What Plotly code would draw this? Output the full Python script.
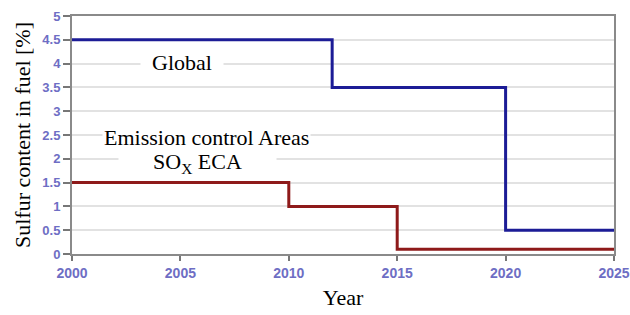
import plotly.graph_objects as go

global_years = [2000, 2012, 2012, 2020, 2020, 2025]
global_values = [4.5, 4.5, 3.5, 3.5, 0.5, 0.5]
eca_years = [2000, 2010, 2010, 2015, 2015, 2025]
eca_values = [1.5, 1.5, 1.0, 1.0, 0.1, 0.1]
x_ticks = [2000, 2005, 2010, 2015, 2020, 2025]
y_ticks = [0, 0.5, 1, 1.5, 2, 2.5, 3, 3.5, 4, 4.5, 5]
y_ticktext = ["0", "0.5", "1", "1.5", "2", "2.5", "3", "3.5", "4", "4.5", "5"]

fig = go.Figure()
fig.add_trace(go.Scatter(x=global_years, y=global_values, mode="lines",
                         line=dict(color="#1c1c96", width=3), showlegend=False))
fig.add_trace(go.Scatter(x=eca_years, y=eca_values, mode="lines",
                         line=dict(color="#8e1a1a", width=3), showlegend=False))

serif = "Liberation Serif, Times New Roman, serif"
sans = "Liberation Sans, Arial, sans-serif"

fig.update_layout(
    width=630, height=315,
    margin=dict(l=72, r=16, t=16, b=61),
    paper_bgcolor="white", plot_bgcolor="white",
    font=dict(family=serif, color="black"),
    xaxis=dict(range=[2000, 2025], tickvals=x_ticks, ticks="outside", ticklen=5,
               tickcolor="#777", tickwidth=1.5, showgrid=False, zeroline=False,
               showline=True, linecolor="#8a8a8a", linewidth=2, mirror=True,
               automargin=False,
               tickfont=dict(family=sans, size=14, color="#6e6ec4", weight="bold"),
               title=dict(text="Year", font=dict(family=serif, size=22), standoff=10)),
    yaxis=dict(range=[0, 5], tickvals=y_ticks, ticktext=y_ticktext, ticks="outside", ticklen=7,
               tickcolor="#777", tickwidth=1.5, showgrid=True, gridcolor="#e2e2e2", gridwidth=2,
               zeroline=False, showline=True, linecolor="#8a8a8a", linewidth=2, mirror=True,
               automargin=False,
               tickfont=dict(family=sans, size=13, color="#6e6ec4", weight="bold"),
               title=dict(text="Sulfur content in fuel [%]", font=dict(family=serif, size=22), standoff=6)),
)

fig.add_annotation(x=2005.07, y=4.03, text="Global", showarrow=False, width=80,
                   font=dict(family=serif, size=22, color="black"), bgcolor="white", borderpad=1)
fig.add_annotation(x=2006.2, y=2.44, text="Emission control Areas", showarrow=False,
                   font=dict(family=serif, size=22, color="black"), bgcolor="white", borderpad=1)
fig.add_annotation(x=2005.8, y=1.91, text="SO<sub>X</sub> ECA", showarrow=False, width=157,
                   font=dict(family=serif, size=22, color="black"), bgcolor="white", borderpad=0)

fig.write_html("out.html", config={"displayModeBar": False},
               post_script="document.body.style.margin='0';")
